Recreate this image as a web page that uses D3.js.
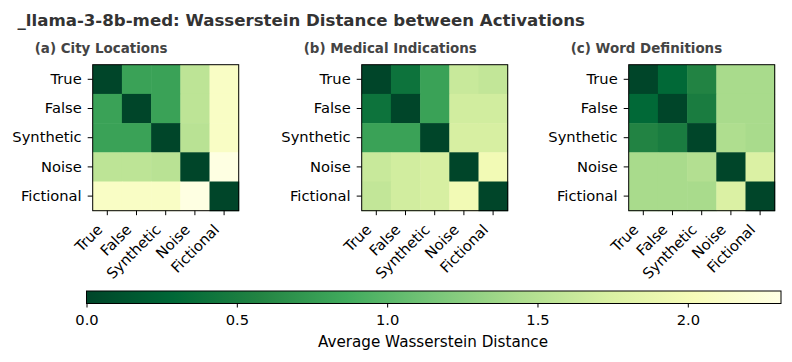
<!DOCTYPE html>
<html lang="en">
<head>
  <meta charset="UTF-8">
  <script src="https://d3js.org/d3.v7.min.js"></script>
  <title>Wasserstein Distance between Activations</title>
  <style>
    body { margin: 0; background: #fff; font-family: "DejaVu Sans", sans-serif; }
    svg text { fill: #000; }
    .main-title { font-size: 16.5px; font-weight: bold; fill: #333; }
    .panel-title { font-size: 13.5px; font-weight: bold; fill: #444; }
    .tick text { font-size: 14.7px; font-family: "DejaVu Sans", sans-serif; }
    .cb-label { font-size: 14.7px; }
  </style>
</head>
<body>
  <svg id="chart" width="792" height="362"></svg>

  <script>
    const labels = ["True", "False", "Synthetic", "Noise", "Fictional"];

    const panelTitles = ["(a) City Locations", "(b) Medical Indications", "(c) Word Definitions"];

    // symmetric distance matrices
    const cityLocations = [
      [0.00, 0.80, 0.80, 1.55, 2.10],
      [0.80, 0.00, 0.80, 1.55, 2.10],
      [0.80, 0.80, 0.00, 1.52, 2.10],
      [1.55, 1.55, 1.52, 0.00, 2.29],
      [2.10, 2.10, 2.10, 2.29, 0.00]
    ];
    const medicalIndications = [
      [0.00, 0.40, 0.80, 1.62, 1.58],
      [0.40, 0.00, 0.80, 1.68, 1.68],
      [0.80, 0.80, 0.00, 1.72, 1.72],
      [1.62, 1.68, 1.72, 0.00, 1.97],
      [1.58, 1.68, 1.72, 1.97, 0.00]
    ];
    const wordDefinitions = [
      [0.00, 0.30, 0.57, 1.42, 1.42],
      [0.30, 0.00, 0.50, 1.42, 1.42],
      [0.57, 0.50, 0.00, 1.46, 1.42],
      [1.42, 1.42, 1.48, 0.00, 1.75],
      [1.42, 1.42, 1.42, 1.75, 0.00]
    ];
    const matrices = [cityLocations, medicalIndications, wordDefinitions];

    const cbTicks = [0.0, 0.5, 1.0, 1.5, 2.0];
    const vmax = 2.31;

    const svg = d3.select("#chart");

    // YlGn_r, linear between the 9 anchor colours like matplotlib
    const ramp = d3.schemeYlGn[9].slice().reverse();
    const color = d3.scaleLinear()
      .domain(ramp.map((c, i) => i / (ramp.length - 1) * vmax))
      .range(ramp)
      .interpolate(d3.interpolateRgb)
      .clamp(true);

    // shrink/grow a text node's font so it spans the given width
    function fitWidth(sel, w) {
      const node = sel.node();
      const fs = parseFloat(getComputedStyle(node).fontSize);
      const len = node.getComputedTextLength();
      if (len > 0) sel.style("font-size", (fs * w / len) + "px");
    }

    const title = svg.append("text")
      .attr("class", "main-title")
      .attr("x", 17.5)
      .attr("y", 26)
      .text("_llama-3-8b-med: Wasserstein Distance between Activations");
    fitWidth(title, 568);

    const size = 146;
    const panelLeft = [92.7, 361.7, 628.7];
    const panelTop = 64.7;

    matrices.forEach((m, p) => {
      const g = svg.append("g").attr("transform", `translate(${panelLeft[p]},${panelTop})`);

      const x = d3.scaleBand().domain(labels).range([0, size]);
      const y = d3.scaleBand().domain(labels).range([0, size]);

      const cells = [];
      m.forEach((row, i) => row.forEach((v, j) => cells.push({ r: labels[i], c: labels[j], v })));

      g.selectAll("rect.cell")
        .data(cells)
        .enter()
        .append("rect")
        .attr("class", "cell")
        .attr("x", d => x(d.c))
        .attr("y", d => y(d.r))
        .attr("width", x.bandwidth() + 0.5)
        .attr("height", y.bandwidth() + 0.5)
        .attr("fill", d => color(d.v));

      g.append("rect")
        .attr("width", size)
        .attr("height", size)
        .attr("fill", "none")
        .attr("stroke", "#000")
        .attr("stroke-width", 1);

      const yAxis = g.append("g")
        .call(d3.axisLeft(y).tickSize(5).tickPadding(6));
      yAxis.select(".domain").remove();

      const xAxis = g.append("g")
        .attr("transform", `translate(0,${size})`)
        .call(d3.axisBottom(x).tickSize(4.5).tickPadding(4));
      xAxis.select(".domain").remove();
      xAxis.selectAll(".tick text")
        .attr("text-anchor", "end")
        .attr("x", 0)
        .attr("y", 0)
        .attr("dy", 0)
        .attr("transform", "translate(-4,20) rotate(-45)");

      const pt = svg.append("text")
        .attr("class", "panel-title")
        .attr("x", panelLeft[p] - 58)
        .attr("y", 53)
        .text(panelTitles[p]);
      if (p === 0) fitWidth(pt, 133);
    });

    // keep the three panel titles at the same size
    const ptSize = svg.select(".panel-title").style("font-size");
    svg.selectAll(".panel-title").style("font-size", ptSize);

    // colour bar
    const cbX0 = 86.5, cbX1 = 781, cbY = 291, cbH = 12.5;
    const cbScale = d3.scaleLinear().domain([0, vmax]).range([cbX0, cbX1]);

    const grad = svg.append("defs").append("linearGradient")
      .attr("id", "cbgrad")
      .attr("x1", "0%").attr("x2", "100%")
      .attr("y1", "0%").attr("y2", "0%");
    ramp.forEach((c, i) => {
      grad.append("stop")
        .attr("offset", (i / (ramp.length - 1) * 100) + "%")
        .attr("stop-color", c);
    });

    svg.append("rect")
      .attr("x", cbX0)
      .attr("y", cbY)
      .attr("width", cbX1 - cbX0)
      .attr("height", cbH)
      .attr("fill", "url(#cbgrad)")
      .attr("stroke", "#000")
      .attr("stroke-width", 1);

    const cbAxis = svg.append("g")
      .attr("transform", `translate(0,${cbY + cbH})`)
      .call(d3.axisBottom(cbScale).tickValues(cbTicks).tickFormat(d3.format(".1f")).tickSize(4).tickPadding(7));
    cbAxis.select(".domain").remove();

    const cbLabel = svg.append("text")
      .attr("class", "cb-label")
      .attr("x", 433)
      .attr("y", 347)
      .attr("text-anchor", "middle")
      .text("Average Wasserstein Distance");
    fitWidth(cbLabel, 230);
  </script>
</body>
</html>
